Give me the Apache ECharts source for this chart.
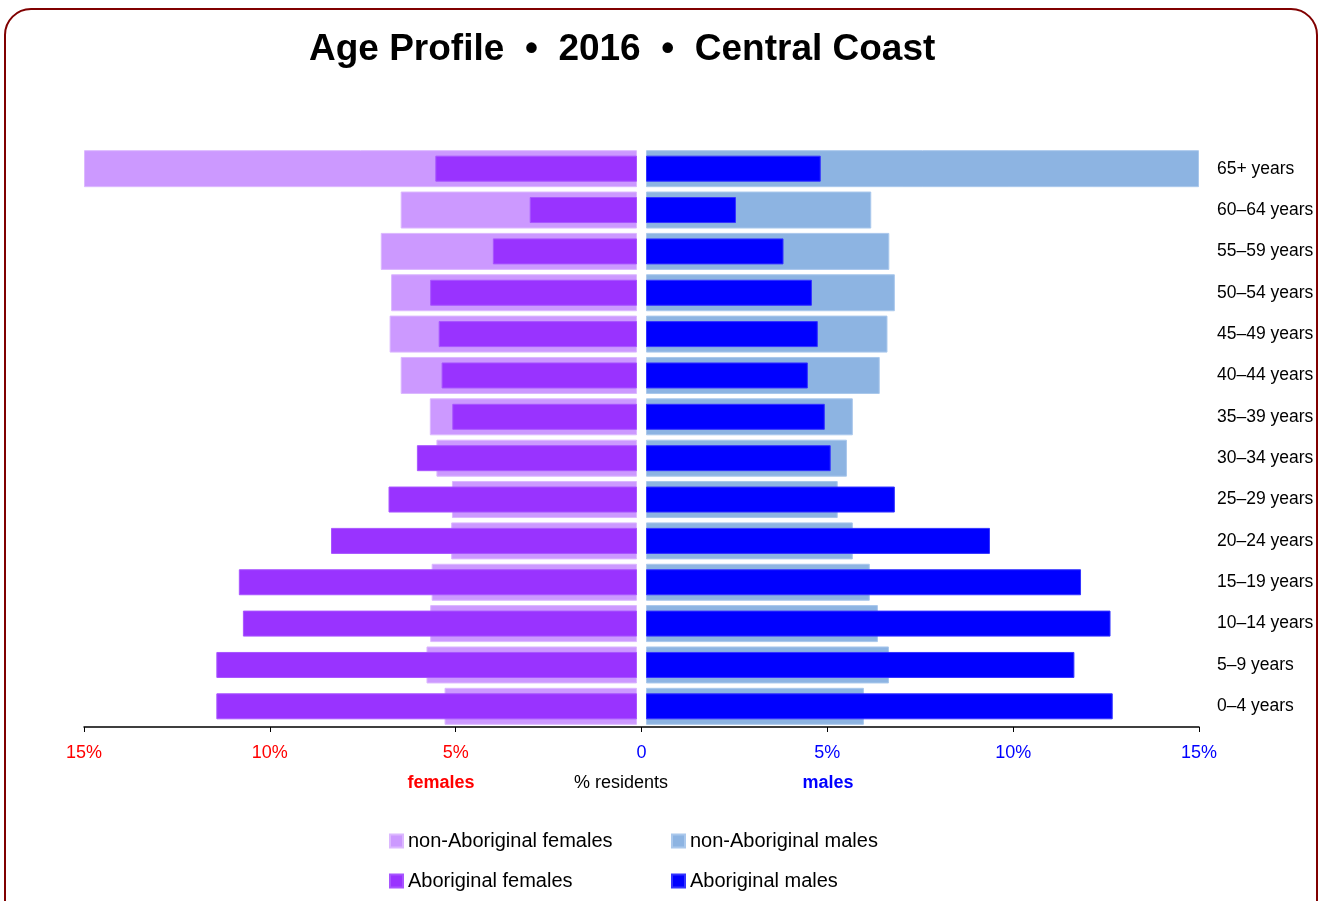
<!DOCTYPE html>
<html>
<head>
<meta charset="utf-8">
<script src="https://cdn.jsdelivr.net/npm/echarts@6/dist/echarts.min.js"></script>
<style>
  html, body { margin: 0; padding: 0; background: #fff; }
  #myCharts { width: 1324px; height: 901px; }
</style>
</head>
<body>
<div id="myCharts"></div>
<script>
  // age groups, top to bottom
  var ageGroups = ['65+ years', '60–64 years', '55–59 years', '50–54 years', '45–49 years', '40–44 years',
    '35–39 years', '30–34 years', '25–29 years', '20–24 years', '15–19 years', '10–14 years', '5–9 years', '0–4 years'];
  // % residents (65+ runs off the 15% axis)
  var nonAbFemales = [15, 6.41, 6.95, 6.67, 6.71, 6.41, 5.62, 5.44, 5.02, 5.04, 5.57, 5.61, 5.71, 5.22];
  var abFemales = [5.47, 2.91, 3.91, 5.61, 5.38, 5.30, 5.01, 5.97, 6.74, 8.30, 10.80, 10.69, 11.41, 11.41];
  var nonAbMales = [15, 6.11, 6.60, 6.75, 6.55, 6.34, 5.61, 5.45, 5.20, 5.61, 6.07, 6.29, 6.59, 5.91];
  var abMales = [4.74, 2.44, 3.73, 4.50, 4.66, 4.39, 4.85, 5.01, 6.75, 9.33, 11.80, 12.60, 11.62, 12.66];
  var axisMax = 15;
  var tickStep = 5;

  var narrow = "'Liberation Sans Narrow', 'Arial Narrow', 'Liberation Sans', sans-serif";

  function catAxis(grid, showLabels) {
    return {
      type: 'category',
      gridIndex: grid,
      data: ageGroups,
      inverse: true,
      position: 'right',
      axisLine: { show: false },
      axisTick: { show: false },
      axisLabel: {
        show: showLabels,
        margin: 18,
        align: 'left',
        color: '#000',
        fontSize: 17.5,
        fontFamily: narrow,
        padding: [4, 0, 0, 0]
      }
    };
  }

  var myCharts = echarts.init(document.getElementById('myCharts'));
  var options = {
    animation: false,
    title: {
      text: 'Age Profile  •  2016  •  Central Coast',
      left: 304,
      top: 26,
      textStyle: { fontSize: 37, fontWeight: 'bold', color: '#000', fontFamily: narrow }
    },
    graphic: [
      {
        type: 'rect',
        shape: { x: 5, y: 9, width: 1312, height: 930, r: 26 },
        style: { fill: 'none', stroke: '#800000', lineWidth: 2 },
        silent: true
      },
      {
        type: 'text', x: 441, y: 783,
        style: { text: 'females', fill: '#ff0000', font: 'bold 18px ' + narrow, textAlign: 'center', textVerticalAlign: 'middle' }
      },
      {
        type: 'text', x: 621, y: 783,
        style: { text: '% residents', fill: '#000', font: '18px ' + narrow, textAlign: 'center', textVerticalAlign: 'middle' }
      },
      {
        type: 'text', x: 828, y: 783,
        style: { text: 'males', fill: '#0000ff', font: 'bold 18px ' + narrow, textAlign: 'center', textVerticalAlign: 'middle' }
      }
    ],
    legend: [
      {
        orient: 'vertical',
        left: 389,
        top: 830,
        padding: 0,
        itemGap: 18,
        itemWidth: 13,
        itemHeight: 13,
        icon: 'rect',
        data: ['non-Aboriginal females', 'Aboriginal females'],
        textStyle: { fontSize: 20, lineHeight: 22, color: '#000', fontFamily: narrow }
      },
      {
        orient: 'vertical',
        left: 671,
        top: 830,
        padding: 0,
        itemGap: 18,
        itemWidth: 13,
        itemHeight: 13,
        icon: 'rect',
        data: ['non-Aboriginal males', 'Aboriginal males'],
        textStyle: { fontSize: 20, lineHeight: 22, color: '#000', fontFamily: narrow }
      }
    ],
    grid: [
      { left: 84, right: 1324 - 637, top: 148, bottom: 901 - 727 },
      { left: 646, right: 1324 - 1199, top: 148, bottom: 901 - 727 },
      { left: 84, right: 1324 - 1199, top: 148, bottom: 901 - 727 }
    ],
    xAxis: [
      { type: 'value', gridIndex: 0, min: 0, max: axisMax, inverse: true, show: false },
      { type: 'value', gridIndex: 1, min: 0, max: axisMax, show: false },
      {
        // the shared % axis underneath
        type: 'value',
        gridIndex: 2,
        min: -axisMax,
        max: axisMax,
        interval: tickStep,
        splitLine: { show: false },
        axisLine: { show: true, lineStyle: { color: '#000', width: 1.5 } },
        axisTick: { show: true, length: 5, lineStyle: { color: '#000' } },
        axisLabel: {
          margin: 17,
          fontSize: 18,
          fontFamily: narrow,
          formatter: function (v) {
            return v === 0 ? '0' : Math.abs(v) + '%';
          },
          color: function (v) {
            return v < 0 ? '#ff0000' : '#0000ff';
          }
        }
      }
    ],
    yAxis: [
      catAxis(0, false),
      catAxis(0, false),
      catAxis(1, true),
      catAxis(1, false),
      { type: 'category', gridIndex: 2, data: [''], show: false }
    ],
    series: [
      {
        name: 'non-Aboriginal females',
        type: 'bar',
        xAxisIndex: 0,
        yAxisIndex: 0,
        barWidth: 37,
        itemStyle: { color: '#cc99ff', borderColor: '#dcb8ff', borderWidth: 1 },
        data: nonAbFemales
      },
      {
        name: 'Aboriginal females',
        type: 'bar',
        xAxisIndex: 0,
        yAxisIndex: 1,
        barWidth: 26,
        z: 3,
        itemStyle: { color: '#9933ff', borderColor: '#a855ff', borderWidth: 1 },
        data: abFemales
      },
      {
        name: 'non-Aboriginal males',
        type: 'bar',
        xAxisIndex: 1,
        yAxisIndex: 2,
        barWidth: 37,
        itemStyle: { color: '#8db4e2', borderColor: '#aac8ec', borderWidth: 1 },
        data: nonAbMales
      },
      {
        name: 'Aboriginal males',
        type: 'bar',
        xAxisIndex: 1,
        yAxisIndex: 3,
        barWidth: 26,
        z: 3,
        itemStyle: { color: '#0000ff', borderColor: '#3333ff', borderWidth: 1 },
        data: abMales
      }
    ]
  };
  myCharts.setOption(options);
</script>
</body>
</html>
